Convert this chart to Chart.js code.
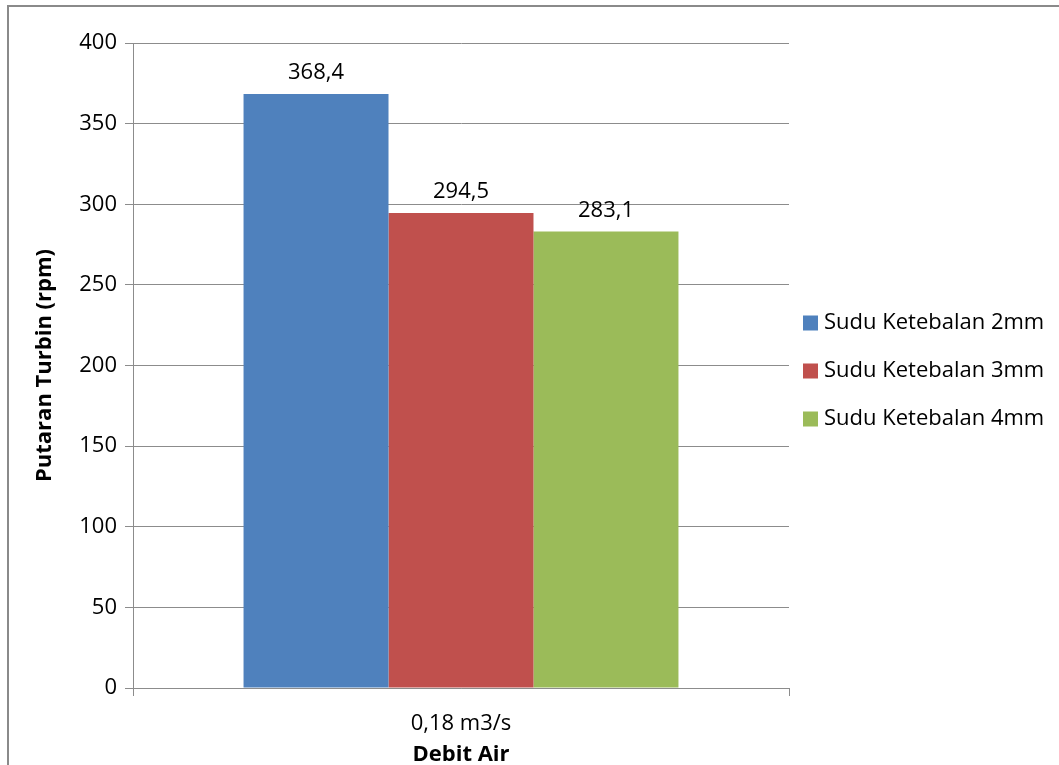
<!DOCTYPE html>
<html>
<head>
<meta charset="utf-8">
<script src="https://cdn.jsdelivr.net/npm/chart.js@4/dist/chart.umd.min.js"></script>
<style>
  html, body { margin: 0; padding: 0; background: #fff; }
  canvas { display: block; }
</style>
</head>
<body>
<canvas id="rpm-chart" width="1059" height="765"></canvas>
<script>
// Turbine speed per blade thickness
const categories = ['0,18 m3/s'];
const seriesNames = ['Sudu Ketebalan 2mm', 'Sudu Ketebalan 3mm', 'Sudu Ketebalan 4mm'];
const seriesValues = [[368.4], [294.5], [283.1]];
const seriesColors = ['#4F81BD', '#C0504D', '#9BBB59'];
const yTicks = [0, 50, 100, 150, 200, 250, 300, 350, 400];

const FONT = '"Open Sans", Lato, sans-serif';
const SIZE = 22;
const GRID = '#8c8c8c';

const fmt = v => v.toFixed(1).replace('.', ',');

// outer frame around the whole figure
const framePlugin = {
    id: 'frame',
    beforeDraw(chart) {
        const ctx = chart.ctx;
        ctx.save();
        ctx.strokeStyle = '#8a8a8a';
        ctx.lineWidth = 2;
        ctx.strokeRect(8, 6, 2000, 2000);
        ctx.restore();
    }
};

// value labels above the bars
const valueLabels = {
    id: 'valueLabels',
    afterDatasetsDraw(chart) {
        const ctx = chart.ctx;
        ctx.save();
        ctx.font = SIZE + 'px ' + FONT;
        ctx.fillStyle = '#000';
        ctx.textAlign = 'center';
        ctx.textBaseline = 'middle';
        chart.data.datasets.forEach((ds, i) => {
            chart.getDatasetMeta(i).data.forEach((bar, j) => {
                ctx.fillText(fmt(ds.data[j]), bar.x, bar.y - 21);
            });
        });
        ctx.restore();
    }
};

// legend on the right, vertically centred on the plot area
const sideLegend = {
    id: 'sideLegend',
    afterDraw(chart) {
        const ctx = chart.ctx;
        const area = chart.chartArea;
        const rowGap = 48;
        const n = chart.data.datasets.length;
        const y0 = (area.top + area.bottom) / 2 + 5 - rowGap * (n - 1) / 2;
        ctx.save();
        ctx.font = SIZE + 'px ' + FONT;
        ctx.textBaseline = 'middle';
        chart.data.datasets.forEach((ds, i) => {
            const y = y0 + i * rowGap;
            ctx.fillStyle = ds.backgroundColor;
            ctx.fillRect(area.right + 14, y - 7, 15, 15);
            ctx.fillStyle = '#000';
            ctx.fillText(ds.label, area.right + 35, y);
        });
        ctx.restore();
    }
};

const datasets = seriesNames.map((name, i) => ({
    label: name,
    data: seriesValues[i],
    backgroundColor: seriesColors[i],
    borderWidth: 0,
    categoryPercentage: 0.663,
    barPercentage: 1
}));

new Chart(document.getElementById('rpm-chart').getContext('2d'), {
    type: 'bar',
    data: { labels: categories, datasets: datasets },
    options: {
        responsive: false,
        animation: false,
        devicePixelRatio: 1,
        layout: { padding: { top: 43, right: 270, bottom: 0, left: 0 } },
        plugins: {
            legend: { display: false },
            tooltip: { enabled: false }
        },
        scales: {
            x: {
                grid: { display: true, drawOnChartArea: false, offset: true, color: GRID, tickLength: 8 },
                border: { color: GRID, width: 1 },
                ticks: { color: '#000', font: { family: FONT, size: SIZE }, padding: 15 },
                title: {
                    display: true, text: 'Debit Air', color: '#000',
                    font: { family: FONT, size: SIZE, weight: 'bold' }, padding: { top: 0, bottom: -2.5 }
                },
                afterFit(scale) { scale.height = 77; }
            },
            y: {
                min: 0,
                max: 400,
                afterBuildTicks(scale) { scale.ticks = yTicks.map(v => ({ value: v })); },
                grid: { color: GRID, tickLength: 8 },
                border: { color: GRID, width: 1 },
                ticks: { color: '#000', font: { family: FONT, size: SIZE }, padding: 8 },
                title: {
                    display: true, text: 'Putaran Turbin (rpm)', color: '#000',
                    font: { family: FONT, size: SIZE, weight: 'bold' }, padding: { top: 32 }
                },
                afterFit(scale) { scale.width = 133; }
            }
        }
    },
    plugins: [framePlugin, valueLabels, sideLegend]
});
</script>
</body>
</html>
